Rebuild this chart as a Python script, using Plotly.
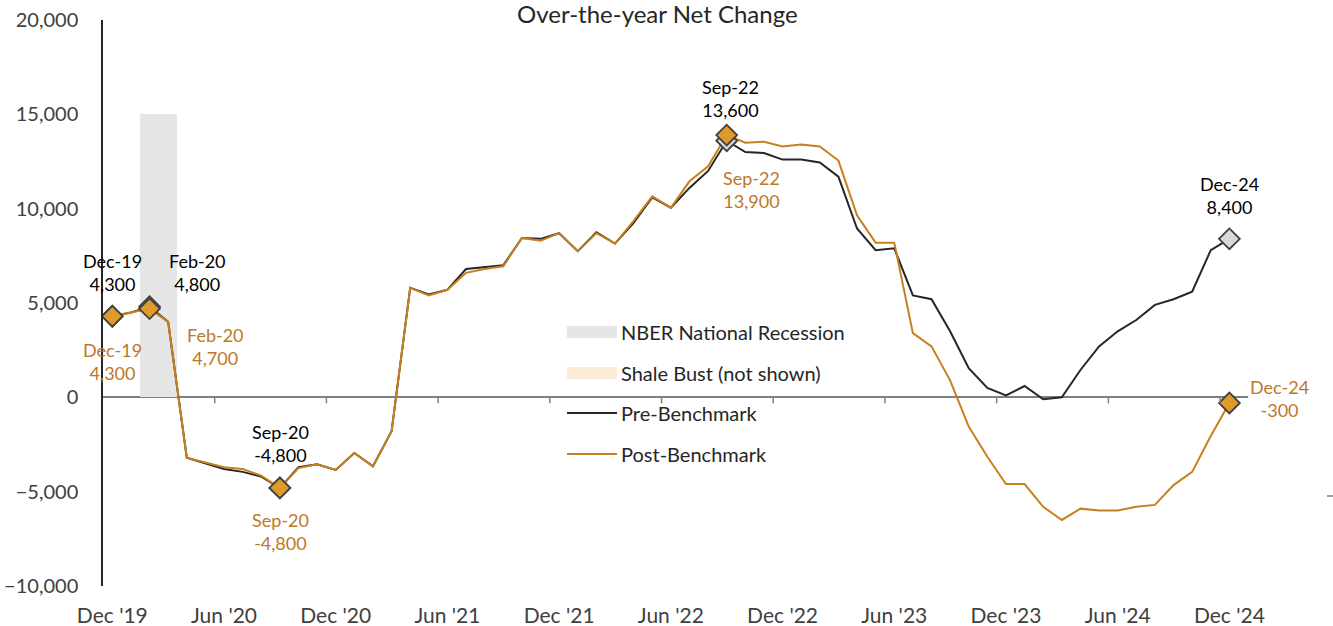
import pandas as pd
import plotly.graph_objects as go

# Monthly categories, Dec 2019 through Dec 2024
months = list(pd.date_range("2019-12-01", "2024-12-01", freq="MS").strftime("%b-%y"))

# Over-the-year net change, jobs
pre_benchmark = [
    4300, 4500, 4800, 4000, -3200, -3500, -3800, -3950, -4200, -4800,
    -3700, -3550, -3850, -2950, -3650, -1800, 5800, 5450, 5700, 6800,
    6900, 7000, 8450, 8400, 8700, 7750, 8750, 8150, 9250, 10600,
    10050, 11100, 12000, 13600, 13000, 12950, 12600, 12600, 12450, 11700,
    8950, 7800, 7900, 5400, 5200, 3500, 1550, 500, 100, 600,
    -100, 0, 1450, 2700, 3500, 4100, 4900, 5200, 5600, 7800,
    8400,
]
post_benchmark = [
    4300, 4500, 4700, 4000, -3200, -3450, -3700, -3800, -4150, -4800,
    -3750, -3550, -3850, -2950, -3650, -1800, 5800, 5400, 5700, 6600,
    6800, 6950, 8450, 8300, 8700, 7750, 8700, 8150, 9350, 10650,
    10050, 11450, 12250, 13900, 13500, 13550, 13300, 13400, 13300, 12550,
    9650, 8200, 8200, 3400, 2700, 900, -1550, -3150, -4600, -4600,
    -5800, -6500, -5900, -6000, -6000, -5800, -5700, -4650, -3950, -2050,
    -300,
]

# NBER recession months shaded as full-width columns
recession_months = ["Feb-20", "Mar-20"]
recession_height = 15000

# Months called out with markers and labels
highlight_months = ["Dec-19", "Feb-20", "Sep-20", "Sep-22", "Dec-24"]

# Axis tick labels (every sixth month)
tick_months = ["Dec-19", "Jun-20", "Dec-20", "Jun-21", "Dec-21", "Jun-22",
               "Dec-22", "Jun-23", "Dec-23", "Jun-24", "Dec-24"]
tick_text = ["Dec '19", "Jun '20", "Dec '20", "Jun '21", "Dec '21", "Jun '22",
             "Dec '22", "Jun '23", "Dec '23", "Jun '24", "Dec '24"]

legend_items = ["NBER National Recession", "Shale Bust (not shown)",
                "Pre-Benchmark", "Post-Benchmark"]

FONT = "Lato"
BLACK_LINE = "#262626"
ORANGE_LINE = "#C8801E"
ORANGE_TEXT = "#BC7826"
MARKER_ORANGE = "#E09A2A"
MARKER_GRAY = "#D9D9D9"
MARKER_EDGE = "#404040"
AXIS_TEXT = "#404040"

W, H = 1333, 626
ML, MR, MT, MB = 103, 85, 20, 40

idx = {m: i for i, m in enumerate(months)}
x_all = list(range(len(months)))


def px_to_paper(px, py):
    return ((px - ML) / (W - ML - MR), (H - MB - py) / (H - MT - MB))


fig = go.Figure()

fig.add_trace(go.Bar(
    x=[idx[m] for m in recession_months],
    y=[recession_height] * len(recession_months),
    width=1, marker=dict(color="#E6E6E6", line=dict(width=0)),
    showlegend=False, hoverinfo="skip",
))

fig.add_trace(go.Scatter(
    x=x_all, y=pre_benchmark, mode="lines",
    line=dict(color=BLACK_LINE, width=2), showlegend=False,
))
fig.add_trace(go.Scatter(
    x=x_all, y=post_benchmark, mode="lines",
    line=dict(color=ORANGE_LINE, width=2), showlegend=False,
))

hx = [idx[m] for m in highlight_months]
fig.add_trace(go.Scatter(
    x=hx, y=[pre_benchmark[i] for i in hx], mode="markers",
    marker=dict(symbol="diamond", size=16, color=MARKER_GRAY,
                line=dict(color=MARKER_EDGE, width=1.8)),
    showlegend=False,
))
fig.add_trace(go.Scatter(
    x=hx, y=[post_benchmark[i] for i in hx], mode="markers",
    marker=dict(symbol="diamond", size=16, color=MARKER_ORANGE,
                line=dict(color=MARKER_EDGE, width=1.8)),
    showlegend=False,
))

# Value labels: (month, series, color, xshift, yshift)
label_specs = [
    ("Dec-19", pre_benchmark, "#000000", 0, 44),
    ("Feb-20", pre_benchmark, "#000000", 48, 34),
    ("Sep-20", pre_benchmark, "#000000", 1, 44),
    ("Sep-22", pre_benchmark, "#000000", 4, 42),
    ("Dec-24", pre_benchmark, "#000000", 0, 43),
    ("Dec-19", post_benchmark, ORANGE_TEXT, 0, -45),
    ("Feb-20", post_benchmark, ORANGE_TEXT, 66, -38),
    ("Sep-20", post_benchmark, ORANGE_TEXT, 1, -44),
    ("Sep-22", post_benchmark, ORANGE_TEXT, 25, -54),
    ("Dec-24", post_benchmark, ORANGE_TEXT, 50, 4),
]
annotations = []
for m, series, color, dx, dy in label_specs:
    v = series[idx[m]]
    annotations.append(dict(
        x=idx[m], y=v, xref="x", yref="y",
        text=f"{m}<br>{v:,}", showarrow=False,
        xshift=dx, yshift=dy, xanchor="center", yanchor="middle",
        font=dict(family=FONT, size=18, color=color),
    ))

# Title
tx, ty = px_to_paper(657, 14)
annotations.append(dict(
    x=tx, y=ty, xref="paper", yref="paper",
    text="Over-the-year Net Change", showarrow=False,
    xanchor="center", yanchor="middle",
    font=dict(family=FONT, size=24, color="#262626"),
))

shapes = []
# Category-boundary tick marks hanging from the zero line
for k in range(1, len(tick_months)):
    xb = idx[tick_months[k]] - 0.5
    shapes.append(dict(
        type="line", xref="x", yref="y", ysizemode="pixel", yanchor=0,
        x0=xb, x1=xb, y0=0, y1=-6,
        line=dict(color="#7F7F7F", width=1.5),
    ))

# Legend drawn with swatches and text
legend_rows_y = [332, 373, 413, 454]
sw_x0, sw_x1, text_x = 567, 617, 619
for i, (name, yy) in enumerate(zip(legend_items, legend_rows_y)):
    x0p, y0p = px_to_paper(sw_x0, yy - 6)
    x1p, y1p = px_to_paper(sw_x1, yy + 6)
    if i < 2:
        fill = "#E6E6E6" if i == 0 else "#FBEAD5"
        shapes.append(dict(type="rect", xref="paper", yref="paper",
                           x0=x0p, x1=x1p, y0=y1p, y1=y0p,
                           fillcolor=fill, line=dict(width=0)))
    else:
        _, ymid = px_to_paper(sw_x0, yy)
        shapes.append(dict(type="line", xref="paper", yref="paper",
                           x0=x0p, x1=x1p, y0=ymid, y1=ymid,
                           line=dict(color=BLACK_LINE if i == 2 else ORANGE_LINE,
                                     width=2)))
    lx, ly = px_to_paper(text_x, yy)
    annotations.append(dict(
        x=lx, y=ly, xref="paper", yref="paper", text=name, showarrow=False,
        xanchor="left", yanchor="middle",
        font=dict(family=FONT, size=20, color="#262626"),
    ))

# Small stray tick on the right edge
dx0, dy0 = px_to_paper(1327, 496)
dx1, _ = px_to_paper(1333, 496)
shapes.append(dict(type="line", xref="paper", yref="paper",
                   x0=dx0, x1=dx1, y0=dy0, y1=dy0,
                   line=dict(color="#404040", width=1)))

fig.update_layout(
    width=W, height=H,
    margin=dict(l=ML, r=MR, t=MT, b=MB, autoexpand=False),
    paper_bgcolor="white", plot_bgcolor="white",
    bargap=0, showlegend=False,
    annotations=annotations, shapes=shapes,
    font=dict(family=FONT, color=AXIS_TEXT),
)
fig.update_xaxes(
    range=[-0.5, 61], tickmode="array",
    tickvals=[idx[m] for m in tick_months], ticktext=tick_text,
    showgrid=False, zeroline=False, showline=False, ticks="",
    tickfont=dict(family=FONT, size=21, color=AXIS_TEXT),
    ticklabelstandoff=15, automargin=False,
)
fig.update_yaxes(
    range=[-10000, 20000], dtick=5000, tickformat=",",
    showgrid=False, showline=True, linecolor="#262626", linewidth=1.5,
    zeroline=True, zerolinecolor="#7F7F7F", zerolinewidth=2,
    ticks="", tickfont=dict(family=FONT, size=20, color=AXIS_TEXT),
    ticklabelstandoff=19, automargin=False,
)

fig.write_html("out.html")
